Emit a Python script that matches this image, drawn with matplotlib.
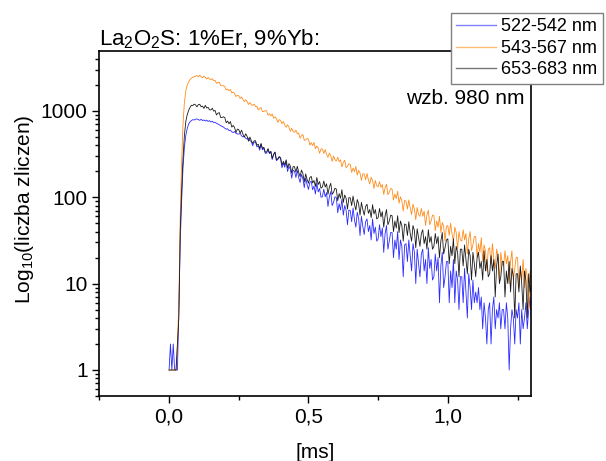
import numpy as np
import matplotlib
matplotlib.use('Agg')
import matplotlib.pyplot as plt
from matplotlib.ticker import LogLocator, FixedLocator, FuncFormatter, NullFormatter

plt.rcParams['font.family'] = ['Liberation Sans', 'DejaVu Sans']
plt.rcParams['mathtext.default'] = 'regular'

# time axis [ms], one sample every 0.005 ms
t_ms = np.round(np.arange(0, 1.3001, 0.005), 3)

labels = ['522-542 nm', '543-567 nm', '653-683 nm']
colors = ['#2b2bff', '#ff8c1a', '#1a1a1a']

# counts (10 samples = 0.05 ms per row)
blue = [1, 2, 1, 2, 1, 1, 1, 5, 30, 90,
        220, 380, 520, 620, 700, 745, 770, 790, 782, 800,
        805, 790, 776, 798, 770, 785, 760, 781, 752, 770,
        742, 758, 728, 735, 716, 705, 690, 672, 661, 648,
        628, 612, 620, 590, 598, 571, 560, 575, 548, 540,
        536, 548, 512, 498, 505, 480, 470, 482, 452, 440,
        394, 432, 437, 382, 396, 350, 410, 353, 369, 322,
        324, 362, 319, 338, 273, 311, 332, 265, 273, 292,
        279, 219, 248, 222, 261, 198, 228, 210, 166, 206,
        200, 169, 204, 169, 148, 183, 165, 129, 167, 141,
        123, 148, 153, 122, 134, 109, 146, 115, 126, 100,
        101, 124, 101, 113, 78, 101, 116, 80, 87, 101,
        99, 66, 84, 71, 95, 62, 80, 71, 48, 71,
        70, 52, 75, 55, 45, 67, 57, 36, 60, 46,
        37, 52, 56, 40, 47, 32, 56, 38, 45, 31,
        33, 48, 35, 44, 23, 38, 47, 25, 31, 39,
        39, 20, 32, 25, 40, 19, 32, 27, 12, 28,
        29, 18, 32, 21, 14, 29, 23, 10, 25, 17,
        12, 22, 25, 14, 19, 10, 26, 15, 19, 11,
        12, 22, 14, 20, 6, 16, 23, 9, 12, 18,
        18, 6, 14, 9, 19, 6, 14, 11, 5, 12,
        12, 6, 15, 8, 4, 13, 9, 5, 11, 6,
        8, 6, 9, 5, 7, 3, 6, 4, 2, 5,
        6, 2, 5, 7, 3, 5, 4, 6, 3, 5,
        5, 3, 6, 4, 1, 3, 5, 4, 2, 5,
        4, 6, 2, 5, 3, 4, 6, 3, 5, 7,
        4]

orange = [1, 1, 1, 1, 1, 1, 2, 6, 60, 250,
          700, 1250, 1700, 1980, 2150, 2290, 2380, 2440, 2480, 2510,
          2560, 2472, 2582, 2477, 2414, 2514, 2452, 2331, 2432, 2336,
          2296, 2352, 2234, 2245, 2077, 2127, 2144, 1966, 1949, 1955,
          1900, 1750, 1785, 1710, 1765, 1610, 1645, 1580, 1460, 1520,
          1482, 1389, 1449, 1351, 1280, 1340, 1279, 1182, 1247, 1177,
          1156, 1194, 1117, 1132, 1028, 1066, 1090, 977, 981, 1006,
          996, 892, 926, 872, 920, 818, 852, 814, 736, 789,
          776, 709, 753, 685, 645, 689, 646, 580, 627, 577,
          563, 596, 542, 552, 482, 516, 532, 455, 462, 477,
          470, 400, 428, 396, 430, 363, 391, 370, 322, 362,
          361, 320, 356, 313, 290, 325, 302, 259, 300, 271,
          263, 290, 258, 271, 224, 252, 268, 219, 228, 244,
          240, 194, 217, 197, 227, 180, 204, 190, 157, 187,
          186, 159, 188, 159, 142, 170, 156, 126, 156, 136,
          132, 151, 130, 140, 108, 129, 141, 107, 114, 126,
          124, 93, 109, 96, 117, 85, 101, 91, 69, 92,
          90, 73, 93, 75, 63, 83, 73, 55, 76, 63,
          60, 74, 60, 69, 47, 62, 71, 48, 53, 62,
          61, 41, 53, 45, 60, 39, 51, 46, 31, 46,
          47, 36, 50, 38, 31, 45, 39, 25, 40, 32,
          31, 42, 32, 38, 22, 33, 40, 24, 28, 35,
          35, 20, 29, 23, 34, 18, 28, 24, 14, 25,
          26, 17, 29, 19, 15, 25, 21, 11, 23, 17,
          16, 24, 17, 21, 10, 18, 24, 11, 15, 20,
          20, 9, 15, 11, 19, 9, 15, 12, 5, 14,
          10]

black = [1, 1, 1, 1, 1, 1, 2, 4, 40, 120,
         280, 520, 750, 900, 1010, 1090, 1160, 1150, 1195, 1170,
         1112, 1178, 1190, 1114, 1134, 1066, 1157, 1077, 1097, 1025,
         1025, 1071, 992, 1009, 895, 937, 953, 836, 836, 853,
         831, 727, 761, 707, 750, 648, 677, 639, 561, 614,
         606, 550, 597, 536, 496, 543, 506, 445, 497, 450,
         418, 449, 451, 400, 410, 367, 419, 366, 378, 333,
         332, 363, 324, 339, 281, 314, 332, 271, 278, 295,
         287, 235, 260, 237, 271, 218, 245, 229, 190, 226,
         225, 195, 228, 194, 173, 206, 188, 151, 186, 161,
         145, 169, 174, 146, 156, 133, 169, 140, 152, 127,
         131, 154, 131, 143, 108, 131, 145, 108, 114, 127,
         124, 91, 110, 97, 122, 87, 106, 97, 73, 99,
         98, 80, 103, 83, 71, 94, 84, 62, 87, 72,
         62, 78, 83, 65, 72, 58, 82, 64, 72, 56,
         58, 74, 59, 68, 45, 61, 72, 48, 53, 62,
         61, 40, 53, 44, 61, 39, 53, 47, 31, 49,
         48, 36, 52, 38, 31, 47, 41, 26, 43, 34,
         27, 38, 42, 29, 35, 25, 42, 30, 35, 25,
         27, 38, 29, 35, 20, 31, 39, 22, 26, 32,
         33, 17, 27, 21, 33, 17, 27, 23, 12, 25,
         25, 16, 28, 19, 13, 25, 21, 11, 23, 17,
         12, 20, 23, 15, 18, 11, 24, 14, 19, 12,
         13, 21, 14, 19, 7, 16, 22, 10, 12, 18,
         18, 7, 14, 10, 18, 8, 15, 12, 4, 13,
         13, 8, 16, 10, 5, 14, 11, 4, 13, 8,
         10]

fig = plt.figure(figsize=(6.06, 4.61), dpi=100)
ax = fig.add_axes([0.164, 0.141, 0.713, 0.748])

for y, c, lab in zip([blue, orange, black], colors, labels):
    ax.plot(t_ms, y, color=c, lw=0.6, label=lab)

ax.set_yscale('log')
ax.set_xlim(-0.25, 1.3)
ax.set_ylim(0.5, 4900)

ax.xaxis.set_major_locator(FixedLocator([0.0, 0.5, 1.0]))
ax.xaxis.set_minor_locator(FixedLocator([-0.25, 0.25, 0.75, 1.25]))
ax.xaxis.set_major_formatter(FuncFormatter(lambda v, p: ('%.1f' % v).replace('.', ',')))
ax.yaxis.set_major_locator(FixedLocator([1, 10, 100, 1000]))
ax.yaxis.set_minor_locator(LogLocator(base=10, subs=np.arange(2, 10)))
ax.yaxis.set_major_formatter(FuncFormatter(lambda v, p: '%d' % v))
ax.yaxis.set_minor_formatter(NullFormatter())

ax.tick_params(which='major', direction='out', length=5, width=1, labelsize=15)
ax.tick_params(which='minor', direction='out', length=3, width=1)
for s in ax.spines.values():
    s.set_linewidth(1.2)

ax.set_xlabel('[ms]', fontsize=15, labelpad=12)
ax.set_ylabel('Log$_{10}$(liczba zliczen)', fontsize=15)
ax.yaxis.set_label_coords(-0.147, 0.54)
ax.set_title('La$_2$O$_2$S: 1%Er, 9%Yb:', loc='left', fontsize=16, pad=4)
ax.text(0.985, 0.862, 'wzb. 980 nm', transform=ax.transAxes,
        ha='right', va='center', fontsize=15)

leg = fig.legend(loc='upper right', bbox_to_anchor=(0.995, 0.972), fontsize=13,
                 fancybox=False, edgecolor='#808080', framealpha=1,
                 handlelength=2.2, handletextpad=0.3, labelspacing=0.25,
                 borderpad=0.3, borderaxespad=0)
leg.get_frame().set_linewidth(1.0)
for ln in leg.get_lines():
    ln.set_linewidth(1.0)
    ln.set_alpha(0.6)

plt.savefig('out.png', dpi=100)
